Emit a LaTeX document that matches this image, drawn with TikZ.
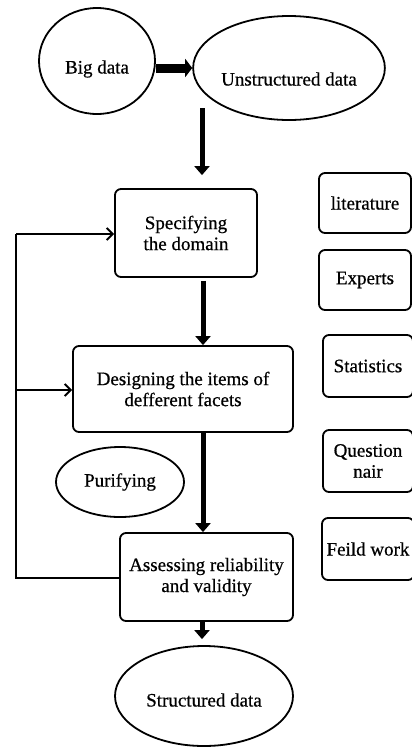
\documentclass[tikz,border=0pt]{standalone}
\usepackage{fontspec}
\setmainfont{Liberation Serif}[FakeBold=0.6]
\usetikzlibrary{shapes.geometric,arrows.meta}
\begin{document}
\begin{tikzpicture}[x=1pt,y=-1pt,
  every node/.style={font=\fontsize{19}{21}\selectfont, align=center, inner sep=0pt},
  oval/.style={ellipse, draw, line width=1.8pt},
  rbox/.style={rectangle, rounded corners=6pt, draw, line width=1.8pt},
  lowertext/.style={text height=#1, text depth=0pt},
  flowarrow/.style={line width=5pt, -{Triangle[width=15pt,length=9pt]}},
  bigarrow/.style={line width=9pt, -{Triangle[width=18pt,length=7pt]}},
  looparrow/.style={line width=2pt, -{Straight Barb[length=6pt,width=12pt,line width=2pt]}},
  loopline/.style={line width=2pt}]
\useasboundingbox (0,0) rectangle (412,748);
% ovals
\node[oval, minimum width=116pt, minimum height=106pt, lowertext=25pt] (big) at (97,61) {Big data};
\node[oval, minimum width=180pt, minimum height=104pt, lowertext=35pt] (uns) at (289,68) {Unstructured data};
\node[oval, minimum width=128pt, minimum height=70pt] (pur) at (120,482) {Purifying};
\node[oval, minimum width=178pt, minimum height=100pt, lowertext=21pt] (str) at (204,696) {Structured data};
% main boxes
\node[rbox, minimum width=142pt, minimum height=88pt] (spec) at (186,233) {Specifying\\the domain};
\node[rbox, minimum width=220pt, minimum height=86pt] (des) at (183,389) {Designing the items of\\defferent facets};
\node[rbox, minimum width=173pt, minimum height=88pt] (ass) at (206.5,577) {Assessing reliability\\and validity};
% side boxes
\node[rbox, minimum width=92pt, minimum height=60pt] (lit) at (365,203) {literature};
\node[rbox, minimum width=92pt, minimum height=60pt] (exp) at (365,280) {Experts};
\node[rbox, minimum width=90pt, minimum height=62pt] (stat) at (368,366) {Statistics};
\node[rbox, minimum width=90pt, minimum height=62pt] (ques) at (368,461) {Question\\nair};
\node[rbox, minimum width=92pt, minimum height=62pt] (feild) at (368,549) {Feild work};
% arrows
\coordinate (u0) at (202,108);
\draw[bigarrow] (big.east |- 0,68) -- (uns.west |- 0,68);
\draw[flowarrow, shorten >=13pt] (u0) -- (u0 |- spec.north);
\draw[flowarrow, shorten <=3pt] (spec.south -| 203,0) -- (des.north -| 203,0);
\draw[flowarrow] (des.south -| 203,0) -- (ass.north -| 203,0);
\draw[flowarrow, shorten >=6pt] (ass.south -| 202,0) -- (str.north -| 202,0);
% feedback loop
\coordinate (lb) at (16,578);
\coordinate (lt) at (16,234);
\coordinate (lm) at (16,390);
\draw[loopline] (ass.west |- lb) -- (lb) -- (lt);
\draw[looparrow] (lt) -- (spec.west |- lt);
\draw[looparrow] (lm) -- (des.west |- lm);
\end{tikzpicture}
\end{document}
